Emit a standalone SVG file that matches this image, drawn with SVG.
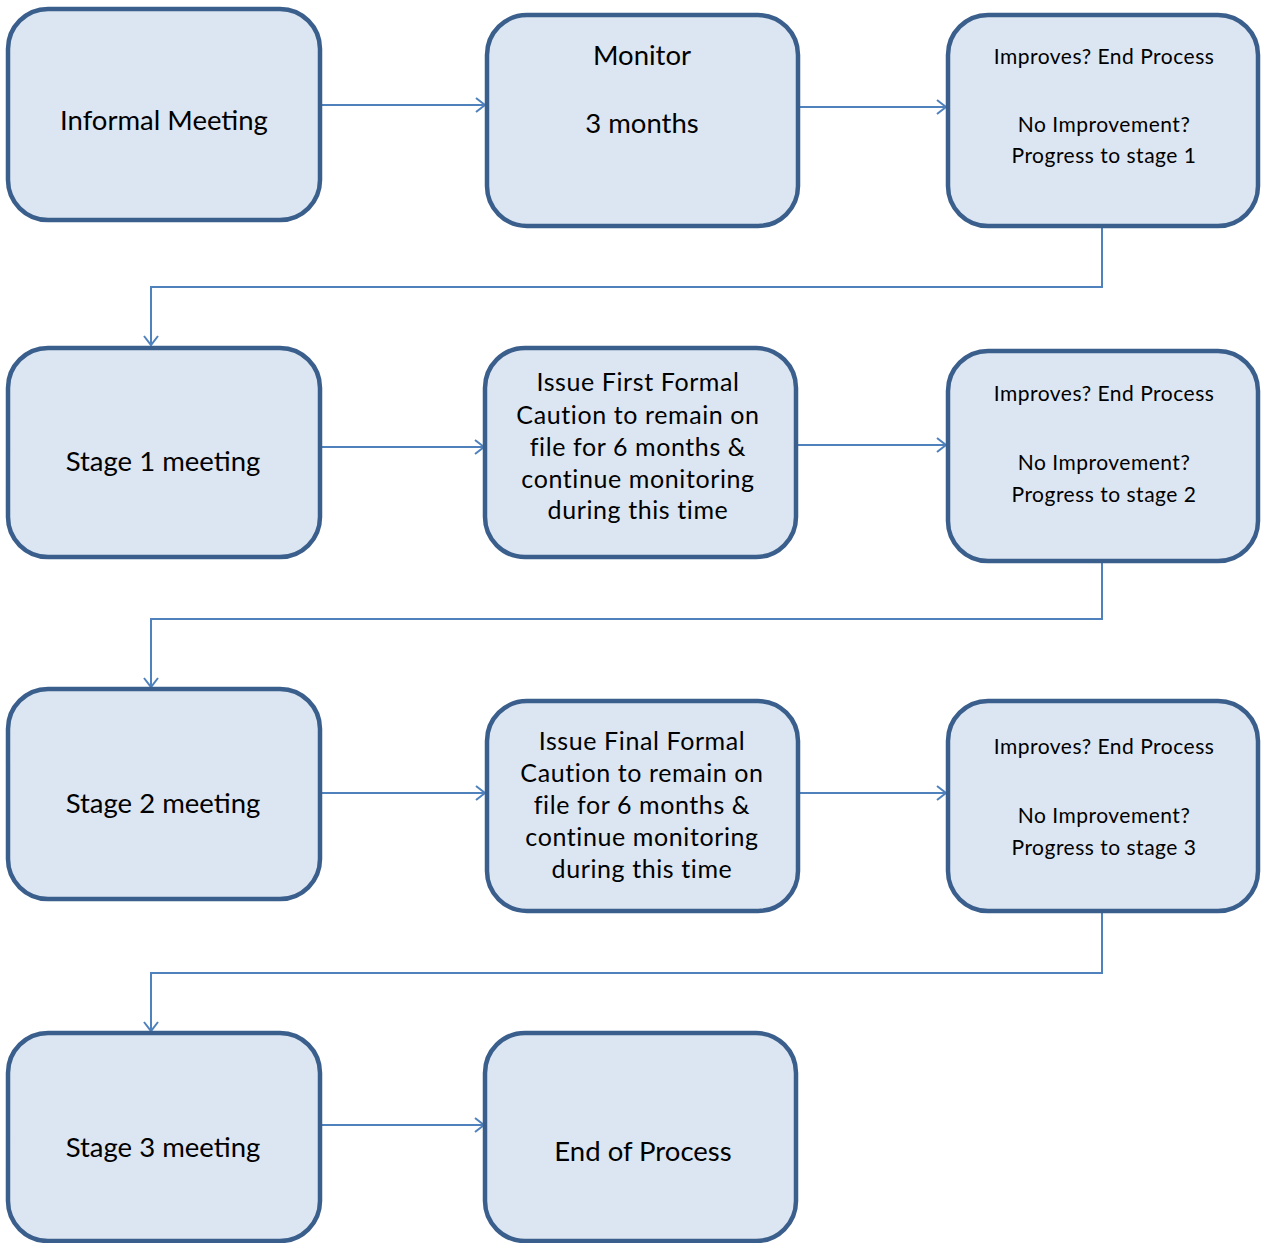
<svg xmlns="http://www.w3.org/2000/svg" width="1261" height="1243" viewBox="0 0 1261 1243">
<style>
.box{fill:#dce6f2;stroke:#3b5f8c;stroke-width:4.5}
.t{font-family:Lato,"Open Sans","Liberation Sans",sans-serif;fill:#000;text-anchor:middle}
.big{font-size:27.5px}
.mid{font-size:25px;letter-spacing:0.6px}
.sm{font-size:21px;letter-spacing:0.5px}
.c{fill:none;stroke:#4f81bd;stroke-width:2}
</style>
<defs>
<marker id="ah" markerWidth="12" markerHeight="16" refX="10" refY="8" orient="auto" markerUnits="userSpaceOnUse">
<path d="M1,1 L10,8 L1,15" fill="none" stroke="#4f81bd" stroke-width="2"/>
</marker>
</defs>
<rect width="1261" height="1243" fill="#fff"/>
<g id="connectors">
<path class="c" d="M320,105 H485" marker-end="url(#ah)"/>
<path class="c" d="M798,107 H946" marker-end="url(#ah)"/>
<path class="c" d="M1102,226 V287 H151 V345" marker-end="url(#ah)"/>
<path class="c" d="M320,447 H484" marker-end="url(#ah)"/>
<path class="c" d="M796,445 H946" marker-end="url(#ah)"/>
<path class="c" d="M1102,561 V619 H151 V687" marker-end="url(#ah)"/>
<path class="c" d="M320,793 H485" marker-end="url(#ah)"/>
<path class="c" d="M798,793 H946" marker-end="url(#ah)"/>
<path class="c" d="M1102,911 V973 H151 V1031" marker-end="url(#ah)"/>
<path class="c" d="M320,1125 H484" marker-end="url(#ah)"/>
</g>
<g id="informal">
<rect class="box" x="8" y="9" width="312" height="211" rx="40"/>
<text class="t big" x="164" y="130">Informal Meeting</text>
</g>
<g id="monitor">
<rect class="box" x="487" y="15" width="311" height="211" rx="40"/>
<text class="t big" x="642" y="65">Monitor</text>
<text class="t big" x="642" y="133">3 months</text>
</g>
<g id="decision1">
<rect class="box" x="948" y="15" width="310" height="211" rx="40"/>
<text class="t sm" x="1104" y="64">Improves? End Process</text>
<text class="t sm" x="1104" y="132">No Improvement?</text>
<text class="t sm" x="1104" y="163">Progress to stage 1</text>
</g>
<g id="stage1">
<rect class="box" x="8" y="348" width="312" height="209" rx="40"/>
<text class="t big" x="163" y="471">Stage 1 meeting</text>
</g>
<g id="firstcaution">
<rect class="box" x="485" y="348" width="311" height="209" rx="40"/>
<text class="t mid" x="638" y="391">Issue First Formal</text>
<text class="t mid" x="638" y="424">Caution to remain on</text>
<text class="t mid" x="638" y="456">file for 6 months &amp;</text>
<text class="t mid" x="638" y="488">continue monitoring</text>
<text class="t mid" x="638" y="519">during this time</text>
</g>
<g id="decision2">
<rect class="box" x="948" y="351" width="310" height="210" rx="40"/>
<text class="t sm" x="1104" y="401">Improves? End Process</text>
<text class="t sm" x="1104" y="470">No Improvement?</text>
<text class="t sm" x="1104" y="502">Progress to stage 2</text>
</g>
<g id="stage2">
<rect class="box" x="8" y="689" width="312" height="210" rx="40"/>
<text class="t big" x="163" y="813">Stage 2 meeting</text>
</g>
<g id="finalcaution">
<rect class="box" x="487" y="701" width="311" height="210" rx="40"/>
<text class="t mid" x="642" y="750">Issue Final Formal</text>
<text class="t mid" x="642" y="782">Caution to remain on</text>
<text class="t mid" x="642" y="814">file for 6 months &amp;</text>
<text class="t mid" x="642" y="846">continue monitoring</text>
<text class="t mid" x="642" y="878">during this time</text>
</g>
<g id="decision3">
<rect class="box" x="948" y="701" width="310" height="210" rx="40"/>
<text class="t sm" x="1104" y="754">Improves? End Process</text>
<text class="t sm" x="1104" y="823">No Improvement?</text>
<text class="t sm" x="1104" y="855">Progress to stage 3</text>
</g>
<g id="stage3">
<rect class="box" x="8" y="1033" width="312" height="208" rx="40"/>
<text class="t big" x="163" y="1157">Stage 3 meeting</text>
</g>
<g id="end">
<rect class="box" x="485" y="1033" width="311" height="208" rx="40"/>
<text class="t big" x="643" y="1161">End of Process</text>
</g>
</svg>
